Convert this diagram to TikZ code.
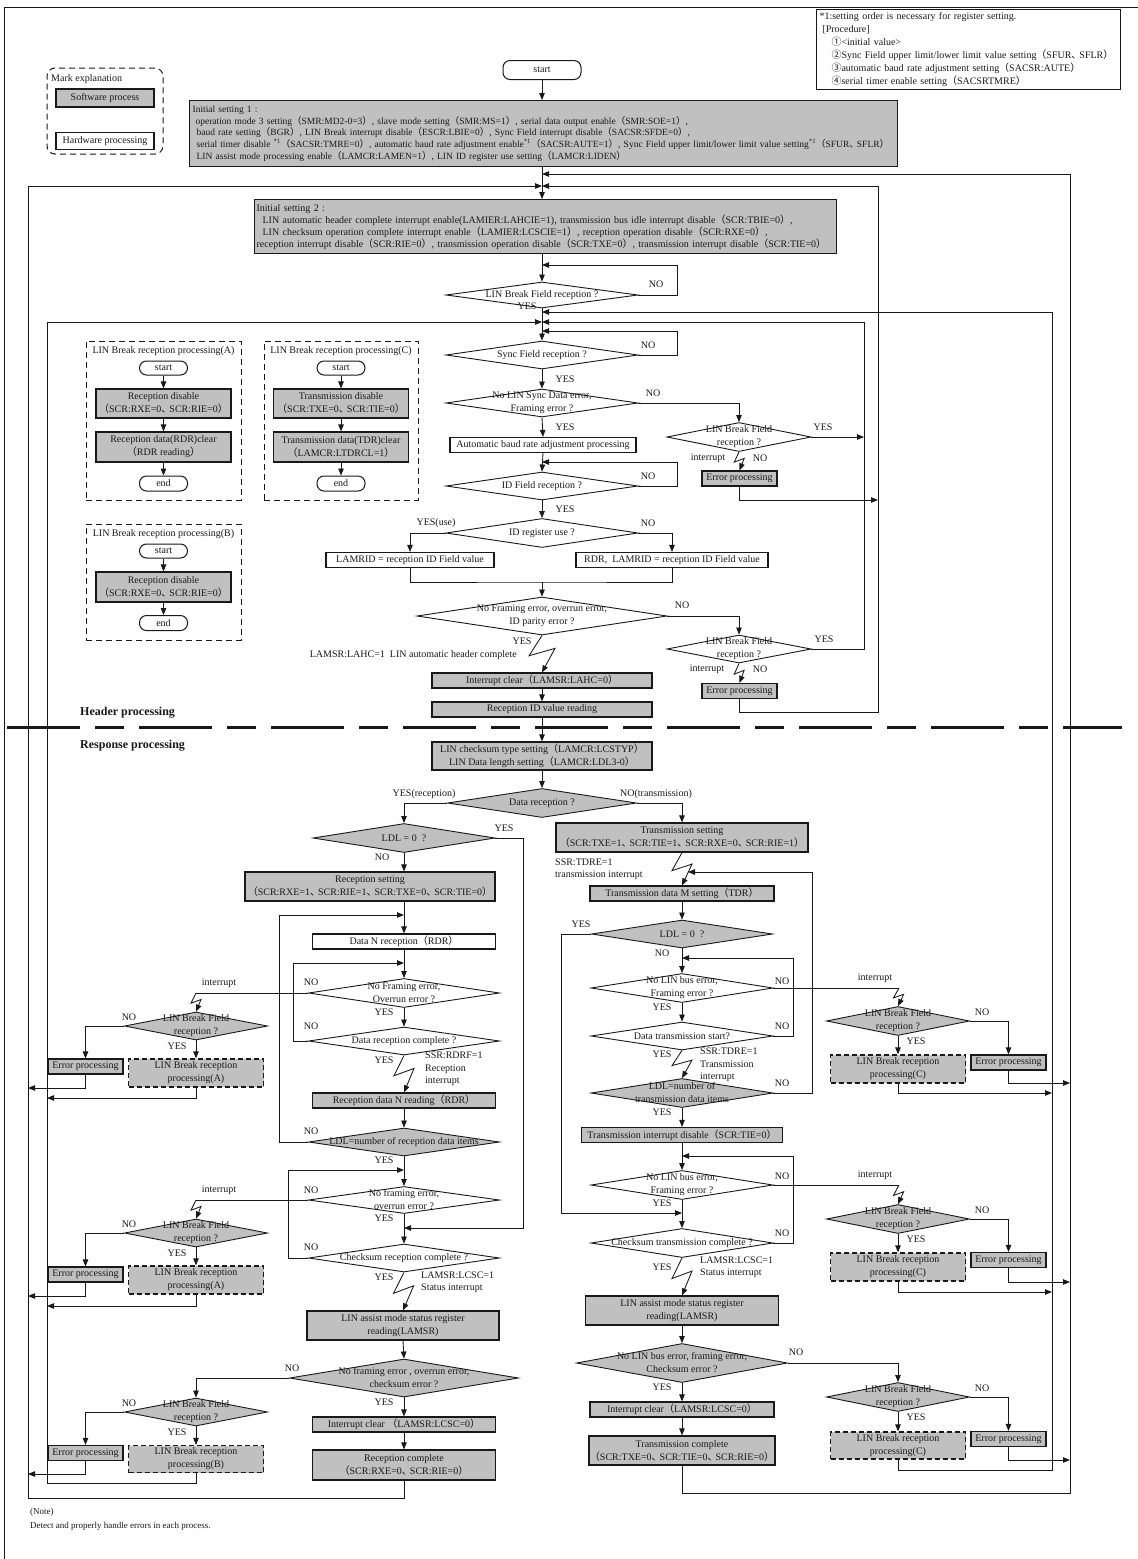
\documentclass[tikz,border=0pt]{standalone}
\usepackage{fontspec}
\setmainfont{Liberation Serif}
\newfontfamily\cjk{Noto Sans CJK JP}
\usetikzlibrary{shapes.geometric,arrows.meta,calc}
\definecolor{boxgray}{RGB}{192,192,192}
\definecolor{ink}{RGB}{25,25,25}
\newcommand{\LPf}{{\cjk （}}
\newcommand{\RPf}{{\cjk ）}}
\newcommand{\CMf}{{\cjk\makebox[0.8em][l]{、}}}
\newcommand{\Cir}[1]{{\cjk #1}}
\newcounter{lbc}
\newcommand{\Lb}[3]{\stepcounter{lbc}\node[lbl] (lb\arabic{lbc}) at (#1,#2) {#3};}
\newcommand{\Bx}[7]{\node[#6, minimum width=#4pt, minimum height=#5pt] (#1) at (#2,#3) {#7};}
\newcommand{\Dia}[7]{\node[#6, minimum width=#4pt, minimum height=#5pt] (#1) at (#2,#3) {}; \node[dtxt] (#1t) at (#1.center) {#7};}
\newcommand{\Bolt}[3]{\draw[arr] (#1) -- ($(#1)!0.55!(#2)+(-#3,0)$) -- ($(#1)!0.35!(#2)+(#3,0)$) -- (#2);}
\tikzset{
 btxt/.style={font=\fontsize{10}{13}\selectfont, text=ink},
 sw/.style={btxt, draw=ink, fill=boxgray, line width=1.2pt, inner sep=1pt, align=center},
 hw/.style={btxt, draw=ink, fill=white, line width=1.2pt, inner sep=1pt, align=center},
 brk/.style={sw, dash pattern=on 5pt off 3pt},
 dia/.style={shape=diamond, draw=ink, line width=0.9pt, inner sep=0pt},
 dsw/.style={dia, fill=boxgray},
 dhw/.style={dia, fill=white},
 dtxt/.style={btxt, align=center, inner sep=0pt},
 term/.style={btxt, draw=ink, fill=white, rounded corners=7pt, line width=1pt, inner sep=0pt},
 lbl/.style={btxt, inner sep=0pt},
 lblw/.style={btxt, inner sep=0pt, anchor=west, align=left, font=\fontsize{10}{12.5}\selectfont},
 conn/.style={draw=ink, line width=0.85pt},
 arr/.style={conn, -{Triangle[length=7pt,width=5.5pt]}},
 dframe/.style={draw=ink, line width=1pt, dash pattern=on 6pt off 4pt},
}
\begin{document}
\begin{tikzpicture}[x=1pt,y=-1pt]
\useasboundingbox (0,0) rectangle (1138,1559);
\fill[white] (0,0) rectangle (1138,1559);
\draw[line width=1pt, draw=ink] (4,1559) -- (4,7) -- (1138,7);

% ---------- note box ----------
\node[draw=ink, line width=1pt, anchor=north west, minimum width=304pt, minimum height=80pt,
  text width=298pt, align=left, inner sep=3pt, font=\fontsize{10}{13}\selectfont, text=ink] (note) at (816,9)
 {*1:setting order is necessary for register setting.\\
  \hspace*{3pt}[Procedure]\\
  \hspace*{12pt}\Cir{①}<initial value>\\
  \hspace*{12pt}\Cir{②}Sync Field upper limit/lower limit value setting\LPf SFUR\CMf SFLR\RPf\\
  \hspace*{12pt}\Cir{③}automatic baud rate adjustment setting\LPf SACSR:AUTE\RPf\\
  \hspace*{12pt}\Cir{④}serial timer enable setting\LPf SACSRTMRE\RPf};

% ---------- legend ----------
\node[dframe, rounded corners=8pt, minimum width=116pt, minimum height=86pt] (leg) at (105,111) {};
\node[lbl, anchor=west] (legt) at (51,79) {Mark explanation};
\Bx{legs}{105}{98}{98}{18}{sw}{Software process}
\Bx{legh}{105}{141}{98}{17}{hw}{Hardware processing}

% ---------- header ----------
\Bx{st}{542}{70}{78}{19}{term}{start}
\node[sw, anchor=north west, minimum width=708pt, minimum height=66pt, text width=702pt, align=left,
  inner sep=2pt, font=\fontsize{9.5}{11.7}\selectfont] (i1) at (189,100)
 {Initial setting 1 :\\
  \hspace*{3pt}operation mode 3 setting\LPf SMR:MD2-0=3\RPf, slave mode setting\LPf SMR:MS=1\RPf, serial data output enable\LPf SMR:SOE=1\RPf,\\
  \hspace*{4pt}baud rate setting\LPf BGR\RPf, LIN Break interrupt disable\LPf ESCR:LBIE=0\RPf, Sync Field interrupt disable\LPf SACSR:SFDE=0\RPf,\\
  \hspace*{4pt}serial timer disable \textsuperscript{*1}\LPf SACSR:TMRE=0\RPf, automatic baud rate adjustment enable\textsuperscript{*1}\LPf SACSR:AUTE=1\RPf, Sync Field upper limit/lower limit value setting\textsuperscript{*1}\LPf SFUR\CMf SFLR\RPf\\
  \hspace*{4pt}LIN assist mode processing enable\LPf LAMCR:LAMEN=1\RPf, LIN ID register use setting\LPf LAMCR:LIDEN\RPf};
\node[sw, anchor=north west, minimum width=582pt, minimum height=54pt, text width=578pt, align=left,
  inner sep=2pt, font=\fontsize{10}{12}\selectfont] (i2) at (254,199)
 {Initial setting 2 :\\
  \hspace*{6pt}LIN automatic header complete interrupt enable(LAMIER:LAHCIE=1), transmission bus idle interrupt disable\LPf SCR:TBIE=0\RPf,\\
  \hspace*{6pt}LIN checksum operation complete interrupt enable\LPf LAMIER:LCSCIE=1\RPf, reception operation disable\LPf SCR:RXE=0\RPf,\\
  reception interrupt disable\LPf SCR:RIE=0\RPf, transmission operation disable\LPf SCR:TXE=0\RPf, transmission interrupt disable\LPf SCR:TIE=0\RPf};

\coordinate (m174) at (542,174);
\coordinate (m186) at (542,186);
\coordinate (m265) at (542,265);
\coordinate (m312) at (542,312);
\coordinate (m322) at (542,322);
\coordinate (m331) at (542,331);
\coordinate (m462) at (542,462);
\coordinate (j582) at (542,582);

\draw[arr] (st.south) -- (st |- i1.north);
\draw[arr] (st |- i1.south) -- (st |- i2.north);

\Dia{hb1}{542}{295}{192}{26}{dhw}{LIN Break Field reception ?}
\draw[arr] (st |- i2.south) -- (hb1.north);
\draw[arr] (hb1.east) -- (677,295) -- (677,265) -- (m265);
\Lb{656}{284}{NO}
\Lb{527}{306}{YES}

\Dia{hs}{542}{355}{192}{28}{dhw}{Sync Field reception ?}
\draw[arr] (hb1.south) -- (hs.north);
\draw[arr] (hs.east) -- (677,355) -- (677,331) -- (m331);
\Lb{648}{345}{NO}
\Lb{565}{379}{YES}

\Dia{hsd}{542}{403}{192}{28}{dhw}{No LIN Sync Data error,\\Framing error ?}
\draw[arr] (hs.south) -- (hsd.north);
\Lb{653}{393}{NO}
\Lb{565}{427}{YES}

\Bx{hab}{543}{445}{186}{15}{hw}{Automatic baud rate adjustment processing}
\draw[arr] (hsd.south) -- (hab.north);

\Dia{hid}{542}{486}{192}{28}{dhw}{ID Field reception ?}
\draw[arr] (hab.south) -- (hid.north);
\draw[arr] (hid.east) -- (677,486) -- (677,462) -- (m462);
\Lb{648}{476}{NO}
\Lb{565}{509}{YES}

\Dia{hir}{542}{533}{192}{29}{dhw}{ID register use ?}
\draw[arr] (hid.south) -- (hir.north);
\Lb{436}{523}{YES(use)}
\Lb{648}{523}{NO}
\Bx{hl1}{410}{560}{168}{15}{hw}{LAMRID = reception ID Field value}
\Bx{hl2}{672}{560}{192}{15}{hw}{RDR,\ \ LAMRID = reception ID Field value}
\draw[arr] (hir.west) -| (hl1.north);
\draw[arr] (hir.east) -| (hl2.north);
\draw[conn] (hl1.south) |- (j582) -| (hl2.south);

\Dia{hp}{542}{616}{250}{38}{dhw}{No Framing error, overrun error,\\ID parity error ?}
\draw[arr] (j582) -- (hp.north);
\Lb{682}{605}{NO}
\Lb{522}{641}{YES}
\node[lbl, anchor=east] (lahc) at (517,655) {LAMSR:LAHC=1\ \ LIN automatic header complete};
\Bx{hic}{542}{680.5}{220}{15}{sw}{Interrupt clear\LPf LAMSR:LAHC=0\RPf}
\Bolt{hp.south}{hic.north}{13}
\Bx{hrid}{542}{709.5}{220}{15}{sw}{Reception ID value reading}
\draw[arr] (hic.south) -- (hrid.north);

% right part of header
\Dia{hb2}{739}{437}{144}{29}{dhw}{LIN Break Field\\reception ?}
\draw[arr] (hsd.east) -| (hb2.north);
\Lb{823}{427}{YES}
\draw[arr] (hb2.east) -- (864,437);
\Lb{708}{458}{interrupt}
\Lb{760}{458}{NO}
\Bx{he1}{739.5}{478.5}{75}{15}{sw}{Error processing}
\Bolt{hb2.south}{he1.north}{5}
\draw[arr] (he1.south) |- (878,500);

\Dia{hb3}{739}{649}{144}{28}{dhw}{LIN Break Field\\reception ?}
\draw[arr] (hp.east) -| (hb3.north);
\Lb{824}{639}{YES}
\draw[arr] (hb3.east) -- (864,649) -- (864,322) -- (m322);
\Lb{707}{669}{interrupt}
\Lb{760}{669}{NO}
\Bx{he2}{739.5}{691}{75}{15}{sw}{Error processing}
\Bolt{hb3.south}{he2.north}{5}
\draw[arr] (he2.south) |- (878,712) -- (878,186) -- (m186);

% sub-processes A, C, B
\node[dframe, minimum width=155pt, minimum height=159pt] (fa) at (163.5,420.5) {};
\node[lbl] (fat) at (163.5,351) {LIN Break reception processing(A)};
\Bx{as}{163.5}{368}{48}{14}{term}{start}
\Bx{a1}{163.5}{403.5}{135}{29}{sw}{Reception disable\\\LPf SCR:RXE=0\CMf SCR:RIE=0\RPf}
\Bx{a2}{163.5}{447}{135}{30}{sw}{Reception data(RDR)clear\\\LPf RDR reading\RPf}
\Bx{ae}{163.5}{483.5}{48}{15}{term}{end}
\draw[arr] (as) -- (a1); \draw[arr] (a1) -- (a2); \draw[arr] (a2) -- (ae);

\node[dframe, minimum width=154pt, minimum height=159pt] (fc) at (341,420.5) {};
\node[lbl] (fct) at (341,351) {LIN Break reception processing(C)};
\Bx{cs}{341}{368}{48}{14}{term}{start}
\Bx{c1}{341}{403.5}{135}{29}{sw}{Transmission disable\\\LPf SCR:TXE=0\CMf SCR:TIE=0\RPf}
\Bx{c2}{341}{447}{135}{30}{sw}{Transmission data(TDR)clear\\\LPf LAMCR:LTDRCL=1\RPf}
\Bx{ce}{341}{483.5}{48}{15}{term}{end}
\draw[arr] (cs) -- (c1); \draw[arr] (c1) -- (c2); \draw[arr] (c2) -- (ce);

\node[dframe, minimum width=155pt, minimum height=116pt] (fb) at (163.5,582) {};
\node[lbl] (fbt) at (163.5,534) {LIN Break reception processing(B)};
\Bx{bs}{163.5}{551}{48}{14}{term}{start}
\Bx{b1}{163.5}{587}{135}{30}{sw}{Reception disable\\\LPf SCR:RXE=0\CMf SCR:RIE=0\RPf}
\Bx{be}{163.5}{623}{48}{15}{term}{end}
\draw[arr] (bs) -- (b1); \draw[arr] (b1) -- (be);

% separator
\draw[draw=ink, line width=3pt, dash pattern=on 73pt off 15pt on 29pt off 15pt] (7,727) -- (1122,727);
\node[lbl, anchor=west, font=\fontsize{12}{14}\selectfont\bfseries] (hdr) at (80,713) {Header processing};
\node[lbl, anchor=west, font=\fontsize{12}{14}\selectfont\bfseries] (rsp) at (80,746) {Response processing};

% ---------- response ----------
\Bx{rcs}{542}{756}{220}{28}{sw}{LIN checksum type setting\LPf LAMCR:LCSTYP\RPf\\LIN Data length setting\LPf LAMCR:LDL3-0\RPf}
\draw[arr] (hrid.south) -- (rcs.north);
\Dia{rdr}{542}{803}{189}{29}{dsw}{Data reception ?}
\draw[arr] (rcs.south) -- (rdr.north);
\Lb{424}{794}{YES(reception)}
\Lb{656}{794}{NO(transmission)}

% reception column
\coordinate (m915) at (404,915);
\coordinate (m963) at (404,963);
\coordinate (m1170) at (404,1170);
\coordinate (m1228) at (404,1228);
\Dia{rl0}{404}{838}{182}{29}{dsw}{LDL = 0\ \ ?}
\draw[arr] (rdr.west) -| (rl0.north);
\Lb{504}{828}{YES}
\draw[arr] (rl0.east) -- (523,838) -- (523,1228) -- (m1228);
\Lb{382}{857}{NO}
\Bx{rset}{370}{886.5}{250}{29}{sw}{Reception setting\\\LPf SCR:RXE=1\CMf SCR:RIE=1\CMf SCR:TXE=0\CMf SCR:TIE=0\RPf}
\draw[arr] (rl0.south) -- (rl0.south |- rset.north);
\Bx{rdn}{404}{941.5}{183}{15}{hw}{Data N reception\LPf RDR\RPf}
\draw[arr] (rl0.south |- rset.south) -- (rdn.north);
\Dia{rfe}{404}{993}{191}{29}{dhw}{No Framing error,\\Overrun error ?}
\draw[arr] (rdn.south) -- (rfe.north);
\Lb{311}{982}{NO}
\Lb{219}{983}{interrupt}
\Lb{384}{1012}{YES}
\Dia{rdc}{404}{1041}{191}{28}{dhw}{Data reception complete ?}
\draw[arr] (rfe.south) -- (rdc.north);
\Lb{311}{1026}{NO}
\draw[arr] (rdc.west) -- (293,1041) -- (293,963) -- (m963);
\Lb{384}{1060}{YES}
\node[lblw] (rdrf) at (425,1069) {SSR:RDRF=1\\Reception\\interrupt};
\Bx{rdnr}{404}{1100.5}{183}{15}{sw}{Reception data N reading\LPf RDR\RPf}
\Bolt{rdc.south}{rdnr.north}{10}
\Dia{rln}{404}{1142}{191}{28}{dsw}{LDL=number of reception data items}
\draw[arr] (rdnr.south) -- (rln.north);
\Lb{311}{1131}{NO}
\draw[arr] (rln.west) -- (279,1142) -- (279,915) -- (m915);
\Lb{384}{1160}{YES}
\Dia{rfe2}{404}{1200}{191}{27}{dhw}{No framing error,\\overrun error ?}
\draw[arr] (rln.south) -- (rfe2.north);
\Lb{311}{1190}{NO}
\Lb{219}{1190}{interrupt}
\Lb{384}{1218}{YES}
\Dia{rcc}{404}{1258}{191}{28}{dhw}{Checksum reception complete ?}
\draw[arr] (rfe2.south) -- (rcc.north);
\Lb{311}{1247}{NO}
\draw[arr] (rcc.west) -- (288,1258) -- (288,1170) -- (m1170);
\Lb{384}{1277}{YES}
\node[lblw] (rlcsc) at (421,1282) {LAMSR:LCSC=1\\Status interrupt};
\Bx{rasr}{403}{1325.5}{192}{29}{sw}{LIN assist mode status register\\reading(LAMSR)}
\Bolt{rcc.south}{rasr.north}{10}
\Dia{rce}{404}{1378}{229}{38}{dsw}{No framing error , overrun error,\\checksum error ?}
\draw[arr] (rasr.south) -- (rce.north);
\Lb{292}{1368}{NO}
\Lb{384}{1402}{YES}
\Bx{ricl}{404}{1424.5}{183}{15}{sw}{Interrupt clear \LPf LAMSR:LCSC=0\RPf}
\draw[arr] (rce.south) -- (ricl.north);
\Bx{rcomp}{404}{1465}{183}{30}{sw}{Reception complete\\\LPf SCR:RXE=0\CMf SCR:RIE=0\RPf}
\draw[arr] (ricl.south) -- (rcomp.north);
\draw[arr] (rcomp.south) |- (28,1498) -- (28,186) -- (m186);

% left break groups
\coordinate (k1) at (196,993);
\coordinate (k2) at (196,1200);
\Dia{rb1}{196}{1026}{143}{28}{dsw}{LIN Break Field\\reception ?}
\draw[conn] (rfe.west) -- (k1);
\Bolt{k1}{rb1.north}{5}
\Lb{129}{1017}{NO}
\Lb{177}{1046}{YES}
\Bx{re1}{85.5}{1066.5}{75}{15}{sw}{Error processing}
\Bx{ra1}{196}{1073}{135}{28}{brk}{LIN Break reception\\processing(A)}
\draw[arr] (rb1.west) -| (re1.north);
\draw[arr] (rb1.south) -- (ra1.north);
\draw[arr] (re1.south) |- (28,1088);
\draw[arr] (ra1.south) |- (47,1098);

\Dia{rb2}{196}{1233}{143}{28}{dsw}{LIN Break Field\\reception ?}
\draw[conn] (rfe2.west) -- (k2);
\Bolt{k2}{rb2.north}{5}
\Lb{129}{1224}{NO}
\Lb{177}{1253}{YES}
\Bx{re2}{85.5}{1274.5}{75}{15}{sw}{Error processing}
\Bx{ra2}{196}{1280}{135}{28}{brk}{LIN Break reception\\processing(A)}
\draw[arr] (rb2.west) -| (re2.north);
\draw[arr] (rb2.south) -- (ra2.north);
\draw[arr] (re2.south) |- (28,1296);
\draw[arr] (ra2.south) |- (47,1306);

\Dia{rb3}{196}{1412}{143}{28}{dsw}{LIN Break Field\\reception ?}
\draw[arr] (rce.west) -| (rb3.north);
\Lb{129}{1403}{NO}
\Lb{177}{1432}{YES}
\Bx{re3}{85.5}{1453}{75}{15}{sw}{Error processing}
\Bx{rbB}{196}{1459}{135}{27}{brk}{LIN Break reception\\processing(B)}
\draw[arr] (rb3.west) -| (re3.north);
\draw[arr] (rb3.south) -- (rbB.north);
\draw[arr] (re3.south) |- (28,1474);
\draw[arr] (rbB.south) |- (47,1483) -- (47,322) -- (m322);

% transmission column
\coordinate (m872) at (688,872);
\coordinate (m958) at (682,958);
\coordinate (m1156) at (682,1156);
\coordinate (m1213) at (682,1213);
\Bx{rts}{682}{837.5}{252}{29}{sw}{Transmission setting\\\LPf SCR:TXE=1\CMf SCR:TIE=1\CMf SCR:RXE=0\CMf SCR:RIE=1\RPf}
\draw[arr] (rdr.east) -| (rts.north);
\node[lblw] (ttdre) at (555,869) {SSR:TDRE=1\\transmission interrupt};
\Bx{rtm}{682}{893.5}{184}{15}{sw}{Transmission data M setting\LPf TDR\RPf}
\Bolt{rts.south}{rtm.north}{10}
\Dia{tl0}{682}{934}{181}{28}{dsw}{LDL = 0\ \ ?}
\draw[arr] (rtm.south) -- (tl0.north);
\Lb{581}{924}{YES}
\draw[arr] (tl0.west) -- (561,934) -- (561,1213) -- (m1213);
\Lb{662}{953}{NO}
\Dia{tbe}{682}{988}{182}{29}{dhw}{No LIN bus error,\\Framing error ?}
\draw[arr] (tl0.south) -- (tbe.north);
\Lb{782}{981}{NO}
\Lb{875}{978}{interrupt}
\Lb{662}{1007}{YES}
\Dia{tds}{682}{1036}{182}{28}{dhw}{Data transmission start?}
\draw[arr] (tbe.south) -- (tds.north);
\Lb{782}{1026}{NO}
\draw[arr] (tds.east) -- (793,1036) -- (793,958) -- (m958);
\Lb{662}{1054}{YES}
\node[lblw] (ttdre2) at (700,1065) {SSR:TDRE=1\\Transmission\\interrupt};
\Dia{tln}{682}{1093}{182}{29}{dsw}{LDL=number of\\transmission data items}
\Bolt{tds.south}{tln.north}{10}
\Lb{782}{1083}{NO}
\draw[arr] (tln.east) -- (812,1093) -- (812,872) -- (m872);
\Lb{662}{1112}{YES}
\Bx{tid}{682}{1135}{201}{15}{sw}{Transmission interrupt disable\LPf SCR:TIE=0\RPf}
\draw[arr] (tln.south) -- (tid.north);
\Dia{tbe2}{682}{1185}{182}{29}{dhw}{No LIN bus error,\\Framing error ?}
\draw[arr] (tid.south) -- (tbe2.north);
\Lb{782}{1176}{NO}
\Lb{875}{1175}{interrupt}
\Lb{662}{1203}{YES}
\Dia{tcc}{682}{1243}{182}{29}{dhw}{Checksum transmission complete ?}
\draw[arr] (tbe2.south) -- (tcc.north);
\Lb{782}{1233}{NO}
\draw[arr] (tcc.east) -- (793,1243) -- (793,1156) -- (m1156);
\Lb{662}{1267}{YES}
\node[lblw] (tlcsc) at (700,1267) {LAMSR:LCSC=1\\Status interrupt};
\Bx{tasr}{682}{1310.5}{193}{29}{sw}{LIN assist mode status register\\reading(LAMSR)}
\Bolt{tcc.south}{tasr.north}{10}
\Dia{tce}{682}{1363}{211}{39}{dsw}{No LIN bus error, framing error,\\Checksum error ?}
\draw[arr] (tasr.south) -- (tce.north);
\Lb{796}{1352}{NO}
\Lb{662}{1387}{YES}
\Bx{ticl}{682}{1409.5}{184}{15}{sw}{Interrupt clear\LPf LAMSR:LCSC=0\RPf}
\draw[arr] (tce.south) -- (ticl.north);
\Bx{tcomp}{682}{1450.5}{184}{29}{sw}{Transmission complete\\\LPf SCR:TXE=0\CMf SCR:TIE=0\CMf SCR:RIE=0\RPf}
\draw[arr] (ticl.south) -- (tcomp.north);
\draw[arr] (tcomp.south) |- (1070,1493) -- (1070,174) -- (m174);

% right break groups
\coordinate (k3) at (899,988);
\coordinate (k4) at (899,1185);
\Dia{tb1}{898}{1021}{143}{29}{dsw}{LIN Break Field\\reception ?}
\draw[conn] (tbe.east) -- (k3);
\Bolt{k3}{tb1.north}{5}
\Lb{982}{1012}{NO}
\Lb{916}{1041}{YES}
\Bx{te1}{1008.5}{1062.5}{75}{15}{sw}{Error processing}
\Bx{tc1}{898}{1069}{135}{28}{brk}{LIN Break reception\\processing(C)}
\draw[arr] (tb1.east) -| (te1.north);
\draw[arr] (tb1.south) -- (tc1.north);
\draw[arr] (te1.south) |- (1070,1083);
\draw[arr] (tc1.south) |- (1052,1093);

\Dia{tb2}{898}{1219}{143}{29}{dsw}{LIN Break Field\\reception ?}
\draw[conn] (tbe2.east) -- (k4);
\Bolt{k4}{tb2.north}{5}
\Lb{982}{1210}{NO}
\Lb{916}{1239}{YES}
\Bx{te2}{1008.5}{1260}{75}{15}{sw}{Error processing}
\Bx{tc2}{898}{1267}{135}{28}{brk}{LIN Break reception\\processing(C)}
\draw[arr] (tb2.east) -| (te2.north);
\draw[arr] (tb2.south) -- (tc2.north);
\draw[arr] (te2.south) |- (1070,1282);
\draw[arr] (tc2.south) |- (1052,1292);

\Dia{tb3}{898}{1397}{143}{29}{dsw}{LIN Break Field\\reception ?}
\draw[arr] (tce.east) -| (tb3.north);
\Lb{982}{1388}{NO}
\Lb{916}{1417}{YES}
\Bx{te3}{1008.5}{1439}{75}{15}{sw}{Error processing}
\Bx{tc3}{898}{1445.5}{135}{27}{brk}{LIN Break reception\\processing(C)}
\draw[arr] (tb3.east) -| (te3.north);
\draw[arr] (tb3.south) -- (tc3.north);
\draw[arr] (te3.south) |- (1070,1460);
\draw[arr] (tc3.south) |- (1052,1470) -- (1052,312) -- (m312);

% note
\node[lbl, anchor=west, font=\fontsize{9}{10}\selectfont] (nt1) at (30,1512) {(Note)};
\node[lbl, anchor=west, font=\fontsize{9}{10}\selectfont] (nt2) at (30,1526) {Detect and properly handle errors in each process.};
\end{tikzpicture}
\end{document}
